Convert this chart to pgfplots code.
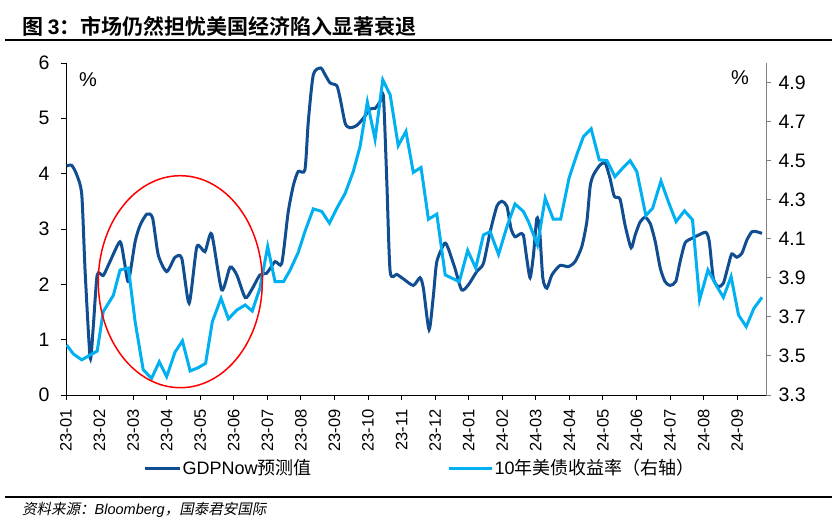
\documentclass[border=0pt]{standalone}
\usepackage{pgfplots}
\usepackage{pgfplotstable}
\pgfplotsset{compat=1.18}
\usepackage{fontspec}
\setmainfont{Liberation Sans}
\newfontfamily\cjk{Noto Sans CJK SC}[BoldFont=* Bold]
\newfontfamily\cjki{Noto Sans CJK SC}[FakeSlant=0.2]
\definecolor{darkblue}{RGB}{16,78,145}
\definecolor{lightblue}{RGB}{0,176,240}

\pgfplotstableread{
x y
0.02 4.14
0.17 4.15
0.32 3.98
0.47 3.62
0.57 2.23
0.72 0.67
0.81 1.21
0.93 2.17
1.11 2.16
1.31 2.41
1.61 2.77
1.74 2.41
1.86 2.05
2.06 2.77
2.21 3.07
2.41 3.27
2.58 3.20
2.75 2.53
3.00 2.23
3.25 2.49
3.45 2.47
3.67 1.66
3.90 2.68
4.14 2.59
4.34 2.91
4.64 1.90
4.89 2.31
5.09 2.17
5.34 1.76
5.53 1.90
5.78 2.17
5.98 2.20
6.23 2.41
6.43 2.38
6.62 3.30
6.78 3.80
6.92 4.04
7.12 4.07
7.22 4.94
7.37 5.79
7.59 5.91
7.72 5.79
7.87 5.64
8.07 5.59
8.17 5.36
8.32 4.91
8.46 4.83
8.66 4.87
8.86 5.00
9.06 5.17
9.21 5.18
9.36 5.30
9.46 5.39
9.56 3.86
9.66 2.23
9.86 2.18
10.05 2.10
10.35 1.98
10.55 2.12
10.65 1.93
10.82 1.18
10.95 1.81
11.05 2.41
11.28 2.74
11.39 2.65
11.59 2.29
11.79 1.90
11.99 1.99
12.24 2.23
12.44 2.38
12.64 2.95
12.84 3.41
12.99 3.50
13.14 3.41
13.26 3.01
13.38 2.86
13.53 2.91
13.63 2.89
13.73 2.47
13.83 2.12
13.93 2.53
14.03 3.19
14.11 3.01
14.21 2.11
14.33 1.93
14.48 2.17
14.72 2.34
14.97 2.32
15.17 2.41
15.37 2.68
15.52 3.13
15.62 3.77
15.72 3.98
15.92 4.16
16.07 4.19
16.21 3.92
16.34 3.59
16.51 3.54
16.66 3.07
16.84 2.66
16.96 2.89
17.11 3.13
17.26 3.21
17.41 3.10
17.56 2.77
17.71 2.29
17.85 2.05
18.00 1.98
18.17 2.05
18.30 2.41
18.45 2.75
18.65 2.83
18.85 2.89
19.07 2.94
19.17 2.77
19.29 2.11
19.44 1.96
19.59 2.02
19.74 2.35
19.84 2.55
19.99 2.49
20.14 2.56
20.29 2.80
20.44 2.95
20.59 2.95
20.74 2.92
}\gdpnow

\pgfplotstableread{
x y
0.02 3.556
0.22 3.51
0.47 3.48
0.72 3.505
0.93 3.525
1.11 3.727
1.41 3.81
1.61 3.94
1.86 3.95
2.06 3.675
2.30 3.43
2.55 3.385
2.78 3.47
3.00 3.394
3.25 3.52
3.47 3.577
3.70 3.423
3.94 3.44
4.16 3.462
4.36 3.675
4.62 3.795
4.84 3.69
5.09 3.735
5.34 3.761
5.55 3.73
5.78 3.847
6.01 4.06
6.23 3.88
6.48 3.88
6.68 3.94
6.92 4.03
7.12 4.137
7.37 4.253
7.62 4.24
7.85 4.18
8.07 4.256
8.32 4.333
8.56 4.444
8.76 4.57
8.98 4.80
9.21 4.61
9.44 4.914
9.66 4.837
9.90 4.577
10.13 4.65
10.35 4.44
10.58 4.465
10.80 4.20
11.05 4.226
11.30 3.915
11.72 3.88
11.97 4.04
12.21 3.95
12.44 4.12
12.64 4.136
12.89 4.02
13.14 4.162
13.38 4.278
13.63 4.24
13.78 4.188
14.05 4.068
14.28 4.308
14.52 4.20
14.74 4.20
14.99 4.41
15.22 4.53
15.42 4.623
15.65 4.663
15.89 4.504
16.12 4.50
16.36 4.418
16.61 4.466
16.81 4.50
17.01 4.444
17.28 4.219
17.48 4.256
17.73 4.396
17.95 4.29
18.18 4.188
18.43 4.243
18.67 4.197
18.88 3.787
19.13 3.94
19.37 3.864
19.59 3.80
19.82 3.906
20.04 3.71
20.27 3.65
20.50 3.744
20.74 3.80
}\yield

\begin{document}
\begin{tikzpicture}
\useasboundingbox (0,0) rectangle (838pt,520pt);

% title
\node[anchor=base west, inner sep=0pt] at (22pt,485pt)
  {\fontsize{21}{24}\selectfont\cjk\bfseries 图 {\rmfamily\bfseries 3}：市场仍然担忧美国经济陷入显著衰退};
\draw[black, line width=2pt] (5pt,480pt) -- (832pt,480pt);
\draw[black, line width=2pt] (5pt,23pt) -- (832pt,23pt);
\node[anchor=base west, inner sep=0pt] at (22pt,6pt)
  {\fontsize{14.5}{16}\selectfont\cjki 资料来源：{\rmfamily\itshape Bloomberg}，国泰君安国际};

\begin{axis}[
  at={(66pt,125pt)}, anchor=south west,
  scale only axis, width=700pt, height=332pt,
  xmin=0, xmax=20.86, ymin=0, ymax=6,
  axis x line*=bottom, axis y line*=left,
  axis line style={-, black, line width=1pt},
  every outer x axis line/.append style={-},
  every outer y axis line/.append style={-},
  tick align=outside, major tick length=5pt,
  tick style={black, line width=1pt},
  xtick={0,...,20},
  xticklabels={23-01,23-02,23-03,23-04,23-05,23-06,23-07,23-08,23-09,23-10,23-11,23-12,24-01,24-02,24-03,24-04,24-05,24-06,24-07,24-08,24-09},
  x tick label style={rotate=90, anchor=east, font=\fontsize{16.5}{18}\selectfont},
  xticklabel shift=6pt,
  ytick={0,1,2,3,4,5,6},
  y tick label style={font=\fontsize{19.5}{22}\selectfont},
  yticklabel shift=8pt,
  /pgf/number format/assume math mode=true,
  legend style={at={(0.11,-0.22)}, anchor=west, draw=none, fill=none,
    inner sep=0pt, font=\fontsize{18}{20}\selectfont, nodes={inner sep=1.5pt}},
  legend image code/.code={\draw[#1] (0pt,0pt) -- (35pt,0pt);},
]
\addplot[darkblue, line width=3pt, smooth, tension=0.4] table {\gdpnow};
\addlegendentry{GDPNow{\cjk 预测值}}
\end{axis}

\begin{axis}[
  at={(66pt,125pt)}, anchor=south west,
  scale only axis, width=700pt, height=332pt,
  xmin=0, xmax=20.86, ymin=3.3, ymax=5.0,
  axis x line=none, axis y line*=right,
  axis line style={-, gray, line width=1pt},
  every outer y axis line/.append style={-},
  tick align=outside, major tick length=5pt,
  ytick style={gray, line width=1pt},
  ytick={3.3,3.5,3.7,3.9,4.1,4.3,4.5,4.7,4.9},
  y tick label style={font=\fontsize{19.5}{22}\selectfont, /pgf/number format/.cd, fixed, fixed zerofill, precision=1},
  yticklabel shift=4pt,
  /pgf/number format/assume math mode=true,
  legend style={at={(0.544,-0.22)}, anchor=west, draw=none, fill=none,
    inner sep=0pt, font=\fontsize{18}{20}\selectfont, nodes={inner sep=1.5pt}},
  legend image code/.code={\draw[#1] (0pt,0pt) -- (43pt,0pt);},
]
\addplot[lightblue, line width=3pt] table {\yield};
\addlegendentry{10{\cjk 年美债收益率（右轴）}}
\end{axis}

\node[font=\fontsize{20}{22}\selectfont] at (88pt,440pt) {\%};
\node[font=\fontsize{20}{22}\selectfont] at (740pt,442pt) {\%};

\draw[red, line width=1.5pt] (180.3pt,238.3pt) ellipse [x radius=82pt, y radius=106pt];
\end{tikzpicture}
\end{document}
